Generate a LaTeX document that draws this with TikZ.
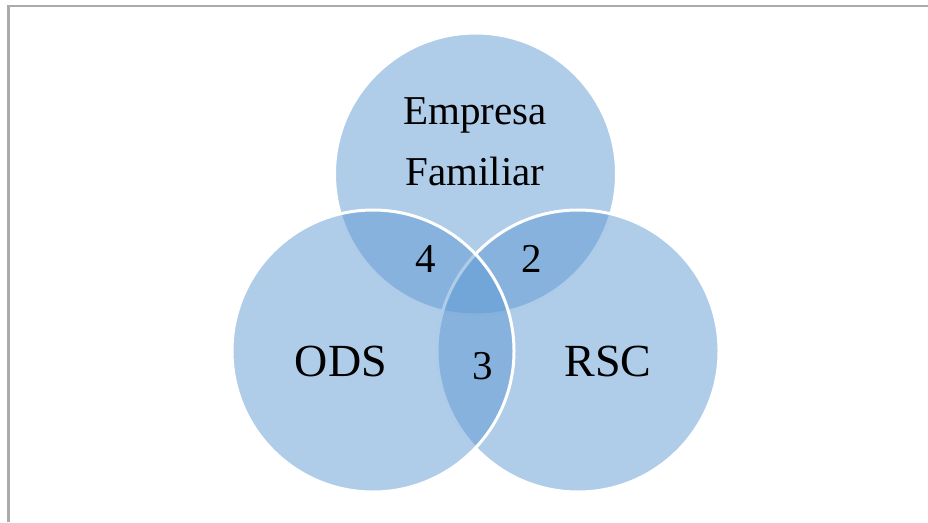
\documentclass[tikz,border=0pt]{standalone}
\usepackage{fontspec}
\setmainfont{Liberation Serif}
\definecolor{vennblue}{HTML}{5F99D3}
\definecolor{framegray}{HTML}{ABABAB}
\tikzset{
  venn/.style={circle, minimum size=282pt, inner sep=0pt, fill=vennblue, fill opacity=0.5, draw=white, line width=3pt},
  biglabel/.style={anchor=base, inner sep=0pt, font=\fontsize{46}{50}\selectfont},
  toplabel/.style={anchor=base, inner sep=0pt, font=\fontsize{41}{45}\selectfont},
  numlabel/.style={anchor=base, inner sep=0pt, font=\fontsize{41}{45}\selectfont},
}
\begin{document}
\begin{tikzpicture}[x=1pt, y=-1pt]
\useasboundingbox (0,0) rectangle (928,522);
\draw[framegray, line width=2.5pt] (8.5,522) -- (8.5,6) -- (928,6);
\node[venn] (top) at (475.5,174) {};
\node[venn] (right) at (578,351) {};
\node[venn] (left) at (373,351) {};
\node[toplabel] (empresa) at (475,124) {Empresa};
\node[toplabel] (familiar) at (475,185) {Familiar};
\node[biglabel] (ods) at (341,376) {ODS};
\node[biglabel] (rsc) at (608,376) {RSC};
\node[numlabel] (n4) at (426,272) {4};
\node[numlabel] (n2) at (532,272) {2};
\node[numlabel] (n3) at (483,379) {3};
\end{tikzpicture}
\end{document}
